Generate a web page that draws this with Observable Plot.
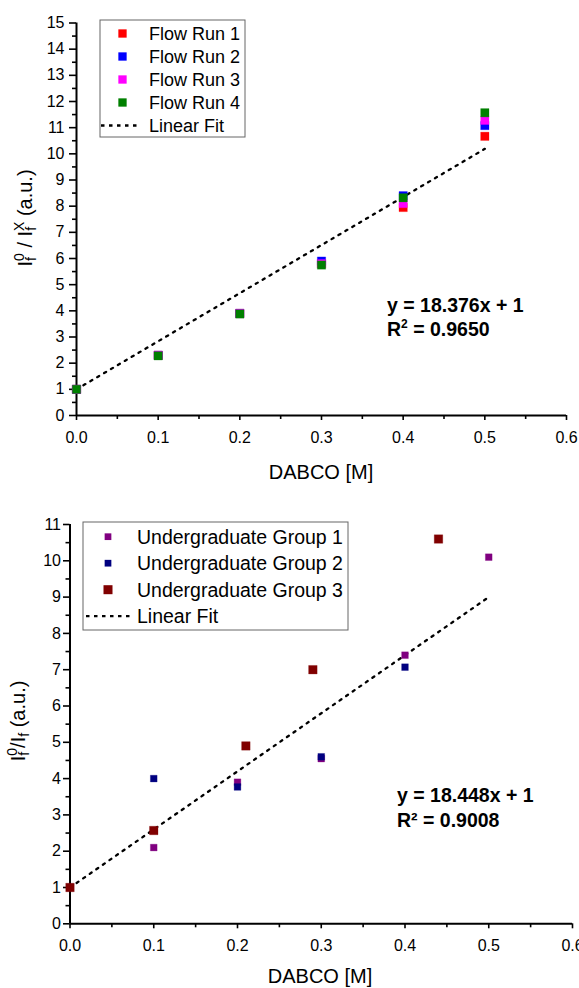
<!DOCTYPE html>
<html><head><meta charset="utf-8">
<script src="https://cdn.jsdelivr.net/npm/d3@7"></script>
<script src="https://cdn.jsdelivr.net/npm/@observablehq/plot@0.6"></script>
<style>
body{margin:0;background:#fff;font-family:"Liberation Sans",Arial,sans-serif}
#chart svg{display:block;font-family:"Liberation Sans",Arial,sans-serif}
</style>
</head><body><div id="chart"></div>
<script>
// ---------- data: top chart ----------
const topX = [0, 0.1, 0.2, 0.3, 0.4, 0.5];
const topNames = ["Flow Run 1", "Flow Run 2", "Flow Run 3", "Flow Run 4"];
const topColors = ["#ff0000", "#0000ff", "#ff00ff", "#008000"];
const run1 = [1, 2.3, 3.9, 5.8, 7.95, 10.67];
const run2 = [1, 2.3, 3.9, 5.9, 8.4, 11.08];
const run3 = [1, 2.3, 3.9, 5.8, 8.1, 11.28];
const run4 = [1, 2.28, 3.88, 5.75, 8.32, 11.57];
const topFitX = [0, 0.5];
const topFitY = [1, 10.19];
const topEq = "y = 18.376x + 1";
const topR2 = "0.9650";
const topXTicks = [0, 0.1, 0.2, 0.3, 0.4, 0.5, 0.6];
const topYTicks = d3.range(0, 16, 1);

// ---------- data: bottom chart ----------
const botNames = ["Undergraduate Group 1", "Undergraduate Group 2", "Undergraduate Group 3"];
const botColors = ["#800080", "#000080", "#800000"];
const g1X = [0, 0.1, 0.2, 0.3, 0.4, 0.5];
const g1Y = [1, 2.1, 3.9, 4.55, 7.4, 10.1];
const g2X = [0, 0.1, 0.2, 0.3, 0.4];
const g2Y = [1, 4.0, 3.77, 4.6, 7.07];
const g3X = [0, 0.1, 0.21, 0.29, 0.44];
const g3Y = [1, 2.57, 4.9, 7.0, 10.6];
const botFitX = [0, 0.5];
const botFitY = [1, 9.0];
const botEq = "y = 18.448x + 1";
const botR2 = "0.9008";
const botXTicks = [0, 0.1, 0.2, 0.3, 0.4, 0.5, 0.6];
const botYTicks = d3.range(0, 12, 1);

const fitName = "Linear Fit";
const xTitle = "DABCO [M]";

function minor(ticks, step) {
  const out = [];
  for (let i = 0; i < ticks.length - 1; i++) out.push(+(ticks[i] + step).toFixed(4));
  return out;
}

function makeChart(cfg) {
  const fit = cfg.fitX.map((x, i) => ({x, y: cfg.fitY[i]}));
  const marks = [
    Plot.axisX({ticks: cfg.xTicks, tickSize: 5, tickPadding: 11, tickFormat: d3.format(".1f"), fontSize: 16, label: null, strokeWidth: 1.6}),
    Plot.axisX({ticks: minor(cfg.xTicks, 0.05), tickSize: 4, tickFormat: () => "", label: null, strokeWidth: 1.6}),
    Plot.axisY({ticks: cfg.yTicks, tickSize: cfg.yTickSize, tickPadding: cfg.yTickPad, fontSize: 16, label: null, strokeWidth: 1.6}),
    Plot.axisY({ticks: minor(cfg.yTicks, 0.5), tickSize: 4, tickFormat: () => "", label: null, strokeWidth: 1.6}),
    Plot.ruleX([cfg.xTicks[0]], {stroke: "black", strokeWidth: 2}),
    Plot.ruleY([cfg.yTicks[0]], {stroke: "black", strokeWidth: 2}),
    Plot.line(fit, {x: "x", y: "y", stroke: "black", strokeWidth: 2.3, strokeDasharray: "2.3,5.7"})
  ];
  cfg.series.forEach(s => {
    const data = s.xs.map((x, i) => ({x, y: s.ys[i]}));
    marks.push(Plot.dot(data, {x: "x", y: "y", symbol: "square", r: s.r, fill: s.color, stroke: s.color, strokeOpacity: 0.35, strokeWidth: 0.8}));
  });
  const svg = Plot.plot({
    width: 579, height: cfg.height,
    marginTop: cfg.mt, marginBottom: cfg.mb, marginLeft: cfg.ml, marginRight: cfg.mr,
    style: {color: "black", background: "white", fontFamily: "Liberation Sans, Arial, sans-serif"},
    x: {domain: [cfg.xTicks[0], cfg.xTicks[cfg.xTicks.length - 1]]},
    y: {domain: [cfg.yTicks[0], cfg.yTicks[cfg.yTicks.length - 1]]},
    marks
  });
  const s = d3.select(svg);
  const ff = "Liberation Sans, Arial, sans-serif";
  s.append("text").attr("x", cfg.xTitleX).attr("y", cfg.xTitleY).attr("text-anchor", "middle")
    .attr("font-size", 20).attr("font-family", ff).attr("fill", "black").text(xTitle);
  const yt = s.append("text").attr("transform", `translate(${cfg.yTitleX},${cfg.yTitleY}) rotate(-90)`)
    .attr("text-anchor", "middle").attr("font-size", 20).attr("font-family", ff).attr("fill", "black");
  cfg.yTitle(yt);
  const lg = s.append("g").attr("text-anchor", "start");
  lg.append("rect").attr("x", cfg.lgX).attr("y", cfg.lgY).attr("width", cfg.lgW).attr("height", cfg.lgH)
    .attr("fill", "white").attr("stroke", "#666").attr("stroke-width", 1);
  cfg.series.forEach((se, i) => {
    const cy = cfg.lgRow0 + i * cfg.lgStep;
    lg.append("rect").attr("x", cfg.lgMarkX - se.lsz / 2).attr("y", cy - se.lsz / 2)
      .attr("width", se.lsz).attr("height", se.lsz).attr("fill", se.color);
    lg.append("text").attr("x", cfg.lgTextX).attr("y", cy).attr("dy", "0.35em").attr("text-anchor", "start")
      .attr("font-size", cfg.lgFont).attr("font-family", ff).attr("fill", "black").text(se.name);
  });
  const fy = cfg.lgRow0 + cfg.series.length * cfg.lgStep;
  lg.append("line").attr("x1", cfg.lgLineX1).attr("x2", cfg.lgLineX2).attr("y1", fy).attr("y2", fy)
    .attr("stroke", "black").attr("stroke-width", 2.3).attr("stroke-dasharray", "3.5,4.5");
  lg.append("text").attr("x", cfg.lgTextX).attr("y", fy).attr("dy", "0.35em").attr("text-anchor", "start")
    .attr("font-size", cfg.lgFont).attr("font-family", ff).attr("fill", "black").text(fitName);
  s.append("text").attr("x", cfg.eqX).attr("y", cfg.eqY1).attr("font-size", 19.5).attr("font-weight", "bold")
    .attr("text-anchor", "start").attr("font-family", ff).attr("fill", "black").text(cfg.eq);
  const r2 = s.append("text").attr("x", cfg.eqX).attr("y", cfg.eqY2).attr("font-size", 19.5).attr("font-weight", "bold")
    .attr("text-anchor", "start").attr("font-family", ff).attr("fill", "black");
  cfg.r2(r2);
  return svg;
}

const topChart = makeChart({
  height: 490, mt: 22.5, mb: 75, ml: 76, mr: 13,
  xTicks: topXTicks, yTicks: topYTicks, yTickSize: 7, yTickPad: 5,
  fitX: topFitX, fitY: topFitY,
  series: [
    {name: topNames[0], color: topColors[0], xs: topX, ys: run1, r: 4.7, lsz: 8.3},
    {name: topNames[1], color: topColors[1], xs: topX, ys: run2, r: 4.7, lsz: 8.3},
    {name: topNames[2], color: topColors[2], xs: topX, ys: run3, r: 4.7, lsz: 8.3},
    {name: topNames[3], color: topColors[3], xs: topX, ys: run4, r: 4.7, lsz: 8.3}
  ],
  xTitleX: 321, xTitleY: 479,
  yTitleX: 32, yTitleY: 218,
  yTitle: t => {
    t.append("tspan").text("I");
    t.append("tspan").attr("font-size", 14).attr("dy", -8).text("0");
    t.append("tspan").attr("font-size", 14).attr("dx", -7.8).attr("dy", 12).text("f");
    t.append("tspan").attr("dx", 4).attr("dy", -4).text(" / I");
    t.append("tspan").attr("font-size", 14).attr("dy", -8).text("X");
    t.append("tspan").attr("font-size", 14).attr("dx", -9.3).attr("dy", 12).text("f");
    t.append("tspan").attr("dx", 5.3).attr("dy", -4).text(" (a.u.)");
  },
  lgX: 100, lgY: 20, lgW: 145, lgH: 117, lgRow0: 33.5, lgStep: 23, lgMarkX: 122.5, lgTextX: 149,
  lgFont: 18, lgLineX1: 101, lgLineX2: 139,
  eq: topEq, eqX: 387, eqY1: 312, eqY2: 336,
  r2: t => {
    t.append("tspan").text("R");
    t.append("tspan").attr("font-size", 12).attr("dy", -8).text("2");
    t.append("tspan").attr("dy", 8).text(" = " + topR2);
  }
});

const botChart = makeChart({
  height: 498, mt: 34, mb: 64.7, ml: 69.5, mr: 7,
  xTicks: botXTicks, yTicks: botYTicks, yTickSize: 6.5, yTickPad: 2.5,
  fitX: botFitX, fitY: botFitY,
  series: [
    {name: botNames[0], color: botColors[0], xs: g1X, ys: g1Y, r: 3.8, lsz: 6.7},
    {name: botNames[1], color: botColors[1], xs: g2X, ys: g2Y, r: 3.8, lsz: 6.7},
    {name: botNames[2], color: botColors[2], xs: g3X, ys: g3Y, r: 4.8, lsz: 9}
  ],
  xTitleX: 320, xTitleY: 493,
  yTitleX: 25, yTitleY: 231,
  yTitle: t => {
    t.append("tspan").text("I");
    t.append("tspan").attr("font-size", 14).attr("dy", -8).text("0");
    t.append("tspan").attr("font-size", 14).attr("dx", -7.8).attr("dy", 12).text("f");
    t.append("tspan").attr("dx", 4).attr("dy", -4).text("/I");
    t.append("tspan").attr("font-size", 14).attr("dy", 4).text("f");
    t.append("tspan").attr("dy", -4).text(" (a.u.)");
  },
  lgX: 83, lgY: 32, lgW: 265, lgH: 108, lgRow0: 46.7, lgStep: 26.5, lgMarkX: 108, lgTextX: 137,
  lgFont: 19.5, lgLineX1: 86, lgLineX2: 132,
  eq: botEq, eqX: 397, eqY1: 311.7, eqY2: 337,
  r2: t => { t.text("R\u00B2 = " + botR2); }
});

document.getElementById("chart").append(topChart, botChart);
</script>
</body></html>
